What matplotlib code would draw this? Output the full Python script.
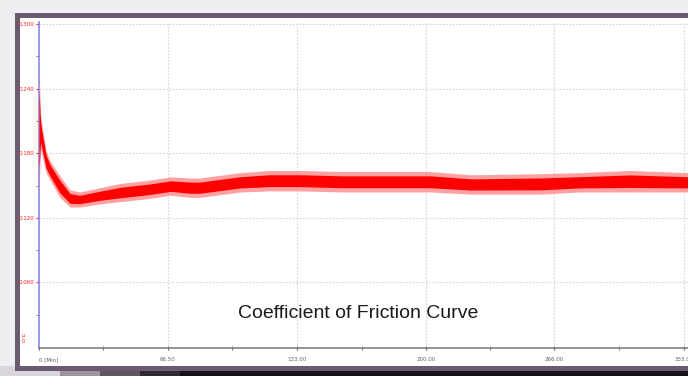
import matplotlib
matplotlib.use("Agg")
import matplotlib.pyplot as plt
from matplotlib.patches import Rectangle
import numpy as np

# -----------------------------
# DATA
# -----------------------------
time_min = [0, 0.8, 1.5, 3.6, 5.7, 10.8, 16, 21, 31.5, 42, 57, 68, 78, 83,
            104, 119, 135, 156, 176, 202, 223, 259, 279, 305, 335]
cof_upper = [0.258, 0.215, 0.205, 0.182, 0.172, 0.158, 0.145, 0.143, 0.147, 0.151,
             0.154, 0.157, 0.156, 0.156, 0.161, 0.163, 0.163, 0.162, 0.162, 0.162,
             0.159, 0.160, 0.161, 0.163, 0.161]
cof_lower = [0.145, 0.185, 0.180, 0.163, 0.156, 0.140, 0.131, 0.131, 0.134, 0.136,
             0.139, 0.142, 0.140, 0.140, 0.145, 0.146, 0.146, 0.145, 0.145, 0.145,
             0.143, 0.143, 0.145, 0.145, 0.145]

x_ticks = [0, 66.5, 133, 200, 266, 333]
x_labels = ["0 [Min]", "66.50", "133.00", "200.00", "266.00", "333.00"]
y_ticks = [0.06, 0.12, 0.18, 0.24, 0.30]
y_labels = ["0.060", "0.120", "0.180", "0.240", "0.300"]
title = "Coefficient of Friction Curve"

W, H = 688, 376
fig = plt.figure(figsize=(W / 100, H / 100), dpi=100)
fig.patch.set_facecolor("#efeef1")


def box(x0, y0, x1, y1, **kw):
    # pixel box (top-left origin) -> figure fraction rectangle, behind the axes
    fig.add_artist(Rectangle((x0 / W, 1 - y1 / H), (x1 - x0) / W, (y1 - y0) / H,
                             transform=fig.transFigure, zorder=-10, **kw))


# shadow under the window
box(0, 366, W, H, facecolor="#d8d6da", edgecolor="none")
for i, c in enumerate(["#9a969c", "#5c585e", "#2e2b30", "#141214"]):
    box(60 + i * 40, 369 + i * 0.5, W, H, facecolor=c, edgecolor="none")
# window frame + white body
box(15, 13, W + 10, 371, facecolor="#6c5b70", edgecolor="none")
box(20, 18, W + 10, 366, facecolor="white", edgecolor="none")

# -----------------------------
# PLOT
# -----------------------------
ax = fig.add_axes([39 / W, 1 - 348 / H, (W - 39) / W, (348 - 22) / H])
ax.set_facecolor("white")

t = np.array(time_min)
up = np.array(cof_upper)
lo = np.array(cof_lower)
mid = (up + lo) / 2
half = (up - lo) / 2
ax.fill_between(t, lo - 0.001, up + 0.001, color="#ff7a7a", alpha=0.7, linewidth=0, zorder=3)
ax.fill_between(t, mid - half * 0.65, mid + half * 0.65, color="#ff0000",
                linewidth=0, zorder=4)

ax.set_xlim(0, 335)
ax.set_ylim(-0.001, 0.302)

ax.set_xticks(x_ticks)
ax.set_xticklabels(x_labels)
ax.get_xticklabels()[0].set_horizontalalignment("left")
ax.set_xticks([33.25, 99.75, 166.5, 233, 299.5], minor=True)
ax.set_yticks(y_ticks)
ax.set_yticklabels(y_labels)
ax.set_yticks([0.03, 0.09, 0.15, 0.21, 0.27], minor=True)

ax.grid(True, which="major", color="#d4d4d4", linestyle=(0, (1.5, 1.5)), linewidth=0.8)
ax.set_axisbelow(True)

ax.tick_params(axis="x", which="both", direction="inout", length=3, colors="#606060",
               labelsize=4, pad=5)
ax.tick_params(axis="y", which="both", direction="out", length=2.5, colors="#ff2020",
               labelsize=4, pad=1)

for s in ["top", "right"]:
    ax.spines[s].set_visible(False)
ax.spines["left"].set_color("#8a8ae8")
ax.spines["left"].set_linewidth(1.2)
ax.spines["bottom"].set_color("#808080")
ax.spines["bottom"].set_linewidth(1.2)

ax.text(-0.025, 0.028, "µ\n0", transform=ax.transAxes, color="#ff2020", fontsize=3.5,
        ha="center", va="center")

fig.text(358 / W, 1 - 314 / H, title, fontsize=14, family="Liberation Sans",
         ha="center", va="center", color="#1a1a1a")

fig.savefig("out.png", dpi=100, facecolor=fig.get_facecolor())
